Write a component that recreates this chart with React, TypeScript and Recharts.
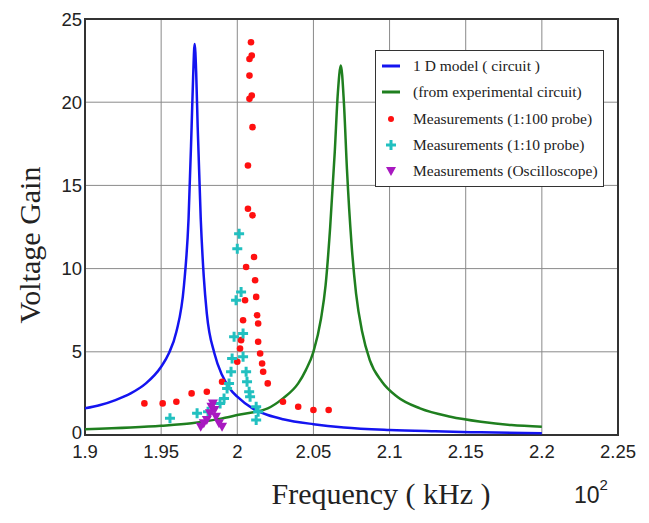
import { ComposedChart, Line, Scatter, XAxis, YAxis, CartesianGrid, ReferenceArea } from 'recharts'

// 1 D model (circuit), blue curve
const modelCurve = [
  { f: 1.9, g: 1.6 }, { f: 1.91, g: 1.8 }, { f: 1.92, g: 2.1 }, { f: 1.93, g: 2.5 },
  { f: 1.94, g: 3.1 }, { f: 1.95, g: 4.1 }, { f: 1.955, g: 4.9 }, { f: 1.96, g: 6.2 },
  { f: 1.965, g: 9.0 }, { f: 1.968, g: 13.0 }, { f: 1.97, g: 18.5 }, { f: 1.971, g: 21.5 },
  { f: 1.972, g: 23.5 }, { f: 1.973, g: 21.8 }, { f: 1.974, g: 18.5 }, { f: 1.976, g: 13.0 },
  { f: 1.978, g: 9.5 }, { f: 1.98, g: 7.3 }, { f: 1.985, g: 4.9 }, { f: 1.99, g: 3.6 },
  { f: 1.995, g: 2.8 }, { f: 2.0, g: 2.3 }, { f: 2.01, g: 1.6 }, { f: 2.02, g: 1.2 },
  { f: 2.03, g: 0.95 }, { f: 2.05, g: 0.65 }, { f: 2.07, g: 0.45 }, { f: 2.1, g: 0.3 },
  { f: 2.13, g: 0.22 }, { f: 2.16, g: 0.16 }, { f: 2.2, g: 0.1 },
]

// (from experimental circuit), green curve
const expCurve = [
  { f: 1.9, g: 0.35 }, { f: 1.93, g: 0.45 }, { f: 1.95, g: 0.55 }, { f: 1.97, g: 0.7 },
  { f: 1.99, g: 1.0 }, { f: 2.0, g: 1.2 }, { f: 2.02, g: 1.6 }, { f: 2.03, g: 2.2 },
  { f: 2.04, g: 3.1 }, { f: 2.045, g: 3.9 }, { f: 2.05, g: 5.0 }, { f: 2.055, g: 7.0 },
  { f: 2.058, g: 9.0 }, { f: 2.061, g: 12.5 }, { f: 2.064, g: 17.0 }, { f: 2.066, g: 20.5 },
  { f: 2.068, g: 22.2 }, { f: 2.07, g: 20.0 }, { f: 2.072, g: 16.0 }, { f: 2.075, g: 11.5 },
  { f: 2.078, g: 8.5 }, { f: 2.082, g: 6.2 }, { f: 2.087, g: 4.5 }, { f: 2.095, g: 3.2 },
  { f: 2.105, g: 2.3 }, { f: 2.12, g: 1.6 }, { f: 2.14, g: 1.1 }, { f: 2.16, g: 0.8 },
  { f: 2.18, g: 0.6 }, { f: 2.2, g: 0.5 },
]

const probe100 = [
  { f: 1.939, g: 1.9 }, { f: 1.951, g: 1.9 }, { f: 1.96, g: 2.0 }, { f: 1.97, g: 2.5 },
  { f: 1.98, g: 2.6 }, { f: 1.99, g: 3.2 }, { f: 2.0, g: 4.4 }, { f: 2.0018, g: 5.2 },
  { f: 2.0025, g: 5.7 }, { f: 2.0038, g: 6.9 }, { f: 2.0051, g: 8.1 }, { f: 2.0058, g: 10.1 },
  { f: 2.007, g: 13.6 }, { f: 2.007, g: 16.2 }, { f: 2.01, g: 13.2 }, { f: 2.011, g: 10.7 },
  { f: 2.0117, g: 9.3 }, { f: 2.0124, g: 8.3 }, { f: 2.013, g: 7.2 }, { f: 2.0137, g: 6.7 },
  { f: 2.0137, g: 5.6 }, { f: 2.015, g: 4.9 }, { f: 2.0163, g: 4.3 }, { f: 2.017, g: 3.8 },
  { f: 2.02, g: 3.1 }, { f: 2.03, g: 2.0 }, { f: 2.04, g: 1.7 }, { f: 2.05, g: 1.5 },
  { f: 2.06, g: 1.5 }, { f: 2.01, g: 18.5 }, { f: 2.008, g: 20.2 }, { f: 2.0095, g: 20.4 },
  { f: 2.008, g: 21.6 }, { f: 2.008, g: 22.6 }, { f: 2.0095, g: 22.8 }, { f: 2.009, g: 23.6 },
]

const probe10 = [
  { f: 1.9558, g: 1.0 }, { f: 1.9736, g: 1.3 }, { f: 1.9808, g: 1.4 }, { f: 1.9887, g: 1.9 },
  { f: 1.9913, g: 2.2 }, { f: 1.9933, g: 2.8 }, { f: 1.9946, g: 3.1 }, { f: 1.9959, g: 3.8 },
  { f: 1.9966, g: 4.6 }, { f: 1.9979, g: 5.9 }, { f: 1.9992, g: 8.1 }, { f: 2.0, g: 11.2 },
  { f: 2.0012, g: 12.1 }, { f: 2.0025, g: 8.6 }, { f: 2.0038, g: 6.1 }, { f: 2.0038, g: 4.7 },
  { f: 2.0058, g: 3.8 }, { f: 2.0064, g: 3.2 }, { f: 2.0078, g: 2.6 }, { f: 2.0084, g: 2.3 },
  { f: 2.0124, g: 1.7 }, { f: 2.0137, g: 1.4 }, { f: 2.0124, g: 0.9 },
]

const scope = [
  { f: 1.976, g: 0.5 }, { f: 1.978, g: 0.7 }, { f: 1.98, g: 0.9 }, { f: 1.982, g: 1.3 },
  { f: 1.983, g: 1.7 }, { f: 1.984, g: 1.9 }, { f: 1.985, g: 1.5 }, { f: 1.986, g: 1.1 },
  { f: 1.988, g: 0.7 }, { f: 1.99, g: 0.5 },
]

const xTicks = [1.9, 1.95, 2, 2.05, 2.1, 2.15, 2.2, 2.25]
const yTicks = [0, 5, 10, 15, 20, 25]

const legendItems = [
  { label: '1 D model ( circuit )', kind: 'line', color: '#1414f0' },
  { label: '(from experimental circuit)', kind: 'line', color: '#1f7f1f' },
  { label: 'Measurements (1:100 probe)', kind: 'dot', color: '#ff1010' },
  { label: 'Measurements (1:10 probe)', kind: 'plus', color: '#22c0c0' },
  { label: 'Measurements (Oscilloscope)', kind: 'tri', color: '#a818c0' },
]

const Dot = (p: any) => <circle cx={p.cx} cy={p.cy} r={3.3} fill="#ff1010" />
const Plus = (p: any) => (
  <path d={`M${p.cx - 5},${p.cy}H${p.cx + 5}M${p.cx},${p.cy - 5}V${p.cy + 5}`} stroke="#22c0c0" strokeWidth={3} />
)
const Tri = (p: any) => (
  <polygon points={`${p.cx - 5},${p.cy - 4} ${p.cx + 5},${p.cy - 4} ${p.cx},${p.cy + 5}`} fill="#a818c0" />
)

const tickFont = { fontFamily: '"Liberation Sans", Arial, sans-serif', fontSize: 18.5, fill: '#222' }

// y tick: the "0" sits a little higher, clear of the "1.9" below it
const YTick = (p: any) => (
  <text x={p.x + 5} y={p.y + (p.payload.value === 0 ? -3 : 0)} textAnchor="end" dominantBaseline="central" {...tickFont}>
    {p.payload.value}
  </text>
)

function LegendBox() {
  return (
    <div style={{ position: 'absolute', left: 375 - 8, top: 50 - 8, width: 229, boxSizing: 'border-box', border: '1.5px solid #333', background: '#fff', padding: '2px 0', fontFamily: '"Liberation Serif", serif', fontSize: 15.5, color: '#222', whiteSpace: 'nowrap' }}>
      {legendItems.map((it) => (
        <div key={it.label} style={{ display: 'flex', alignItems: 'center', height: 26.3 }}>
          <svg width={34} height={14} style={{ marginLeft: 3, flexShrink: 0 }}>
            {it.kind === 'line' && <line x1={3} x2={21} y1={7} y2={7} stroke={it.color} strokeWidth={3} />}
            {it.kind === 'dot' && <circle cx={12} cy={7} r={3} fill={it.color} />}
            {it.kind === 'plus' && <path d="M7,7H17M12,2V12" stroke={it.color} strokeWidth={3} />}
            {it.kind === 'tri' && <polygon points="7,3 17,3 12,12" fill={it.color} />}
          </svg>
          <span>{it.label}</span>
        </div>
      ))}
    </div>
  )
}

export default function App() {
  return (
    <div style={{ position: 'relative', width: 641, height: 515 }}>
      <ComposedChart width={641} height={515} margin={{ top: 11, right: 31, left: 47, bottom: 58 }}>
        <CartesianGrid stroke="#8a8a8a" strokeWidth={1} />
        <XAxis
          type="number"
          dataKey="f"
          domain={[1.9, 2.25]}
          ticks={xTicks}
          allowDataOverflow
          interval={0}
          axisLine={false}
          tickLine={false}
          tick={tickFont}
          tickFormatter={(v: number) => String(v)}
          height={30}
          dy={2}
        />
        <YAxis
          type="number"
          dataKey="g"
          domain={[0, 25]}
          ticks={yTicks}
          interval={0}
          axisLine={false}
          tickLine={false}
          tick={YTick}
          width={30}
        />
        <ReferenceArea x1={1.9} x2={2.25} y1={0} y2={25} fill="none" stroke="#333" strokeWidth={2} />
        <Line data={modelCurve} dataKey="g" type="monotone" stroke="#1414f0" strokeWidth={2.5} dot={false} isAnimationActive={false} />
        <Line data={expCurve} dataKey="g" type="monotone" stroke="#1f7f1f" strokeWidth={2.5} dot={false} isAnimationActive={false} />
        <Scatter data={probe100} dataKey="g" shape={Dot} isAnimationActive={false} />
        <Scatter data={probe10} dataKey="g" shape={Plus} isAnimationActive={false} />
        <Scatter data={scope} dataKey="g" shape={Tri} isAnimationActive={false} />
      </ComposedChart>
      <LegendBox />
      <div style={{ position: 'absolute', left: 30 - 8, top: 245 - 8, transform: 'translate(-50%, -50%) rotate(-90deg)', whiteSpace: 'nowrap', fontFamily: '"Liberation Serif", serif', fontSize: 30, color: '#222' }}>
        Voltage Gain
      </div>
      <div style={{ position: 'absolute', left: 381 - 8, top: 494 - 8, transform: 'translate(-50%, -50%)', whiteSpace: 'nowrap', fontFamily: '"Liberation Serif", serif', fontSize: 30, color: '#222' }}>
        Frequency ( kHz )
      </div>
      <div style={{ position: 'absolute', left: 574 - 8, top: 480 - 8, whiteSpace: 'nowrap', fontFamily: '"Liberation Sans", Arial, sans-serif', fontSize: 23, color: '#222' }}>
        10<sup style={{ fontSize: 15, position: 'relative', top: -4 }}>2</sup>
      </div>
    </div>
  )
}
